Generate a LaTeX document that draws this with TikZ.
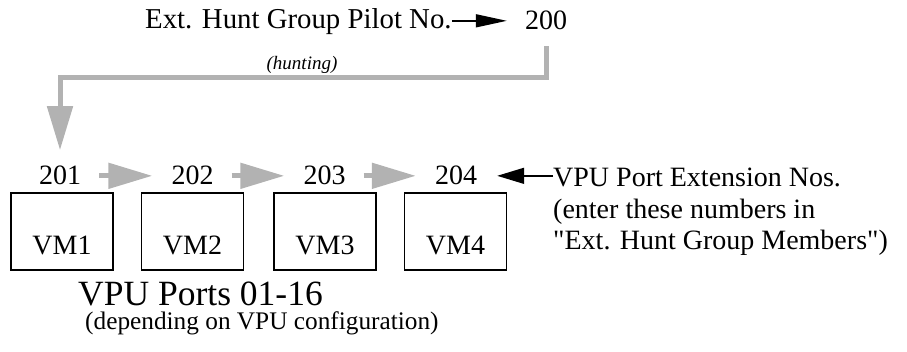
\documentclass[tikz,border=0pt]{standalone}
\usepackage{fontspec}
\setmainfont{Liberation Serif}
\usepackage{tikz}
\usetikzlibrary{arrows.meta, positioning, calc}

\begin{document}
\begin{tikzpicture}[
  x=1pt, y=-1pt,
  txt/.style={inner sep=0pt, font=\fontsize{28}{31.5}\selectfont},
  num/.style={txt, anchor=base},
  vmbox/.style={rectangle, draw, line width=1.5pt, minimum width=102pt, minimum height=77pt, text height=47pt, inner sep=2pt, font=\fontsize{28}{31.5}\selectfont},
  note/.style={txt, align=left},
  grayarrow/.style={-{Triangle[length=44pt, width=25pt]}, line width=5pt, draw=gray!60},
  blkarrow/.style={-{Triangle[length=31pt, width=13pt]}, line width=1.5pt, draw=black}
]
\useasboundingbox (0,0) rectangle (907,352);

% ---------------------------------------------------
% Coordinate Grid
% ---------------------------------------------------
\def\xOne{60}
\def\xTwo{192.5}
\def\xThree{324.5}
\def\xFour{456}

\def\yPilot{29}
\def\yNum{185}
\def\yBox{231.5}

% ---------------------------------------------------
% 1. Pilot number
% ---------------------------------------------------
\node[txt, anchor=base west, font=\fontsize{28.8}{32}\selectfont] (pilot) at (145, \yPilot) {Ext. Hunt Group Pilot No.};
\node[num] (n200) at (546, 30) {200};

\node[inner sep=0pt, anchor=base, font=\fontsize{19}{21}\selectfont\itshape] (hunting) at (302, 70) {(hunting)};

% ---------------------------------------------------
% 2. Port extensions and boxes
% ---------------------------------------------------
\node[num] (n201) at (\xOne, \yNum) {201};
\node[num] (n202) at (\xTwo, \yNum) {202};
\node[num] (n203) at (\xThree, \yNum) {203};
\node[num] (n204) at (\xFour, \yNum) {204};

\node[vmbox] (vm1) at (62, \yBox) {VM1};
\node[vmbox] (vm2) at (\xTwo, \yBox) {VM2};
\node[vmbox] (vm3) at (325, \yBox) {VM3};
\node[vmbox] (vm4) at (455.5, \yBox) {VM4};

% ---------------------------------------------------
% 3. Notes
% ---------------------------------------------------
\node[note, anchor=north west] (extnote) at (553, 168) {VPU Port Extension Nos.\\(enter these numbers in\\\textquotedbl Ext. Hunt Group Members\textquotedbl)};

\node[txt, anchor=base west, font=\fontsize{35.5}{38}\selectfont] (ports) at (78, 305.5) {VPU Ports 01-16};
\node[txt, anchor=base west, font=\fontsize{25.3}{28}\selectfont] (config) at (85, 330) {(depending on VPU configuration)};

% ---------------------------------------------------
% Draw Connections
% ---------------------------------------------------
\draw[blkarrow, shorten >=18pt] (pilot.east |- n200) -- (n200.west);

\draw[grayarrow, shorten >=16pt] (n200.south) ++(0,16) -- ++(0,31.5) -| (n201.north);

\draw[grayarrow, shorten <=18pt, shorten >=19pt] (n201) -- (n202);
\draw[grayarrow, shorten <=18pt, shorten >=19pt] (n202) -- (n203);
\draw[grayarrow, shorten <=18pt, shorten >=19pt] (n203) -- (n204);

\draw[blkarrow, -{Triangle[length=27pt, width=16pt]}, shorten >=20pt] (extnote.west |- n204) -- (n204.east);

\end{tikzpicture}
\end{document}
